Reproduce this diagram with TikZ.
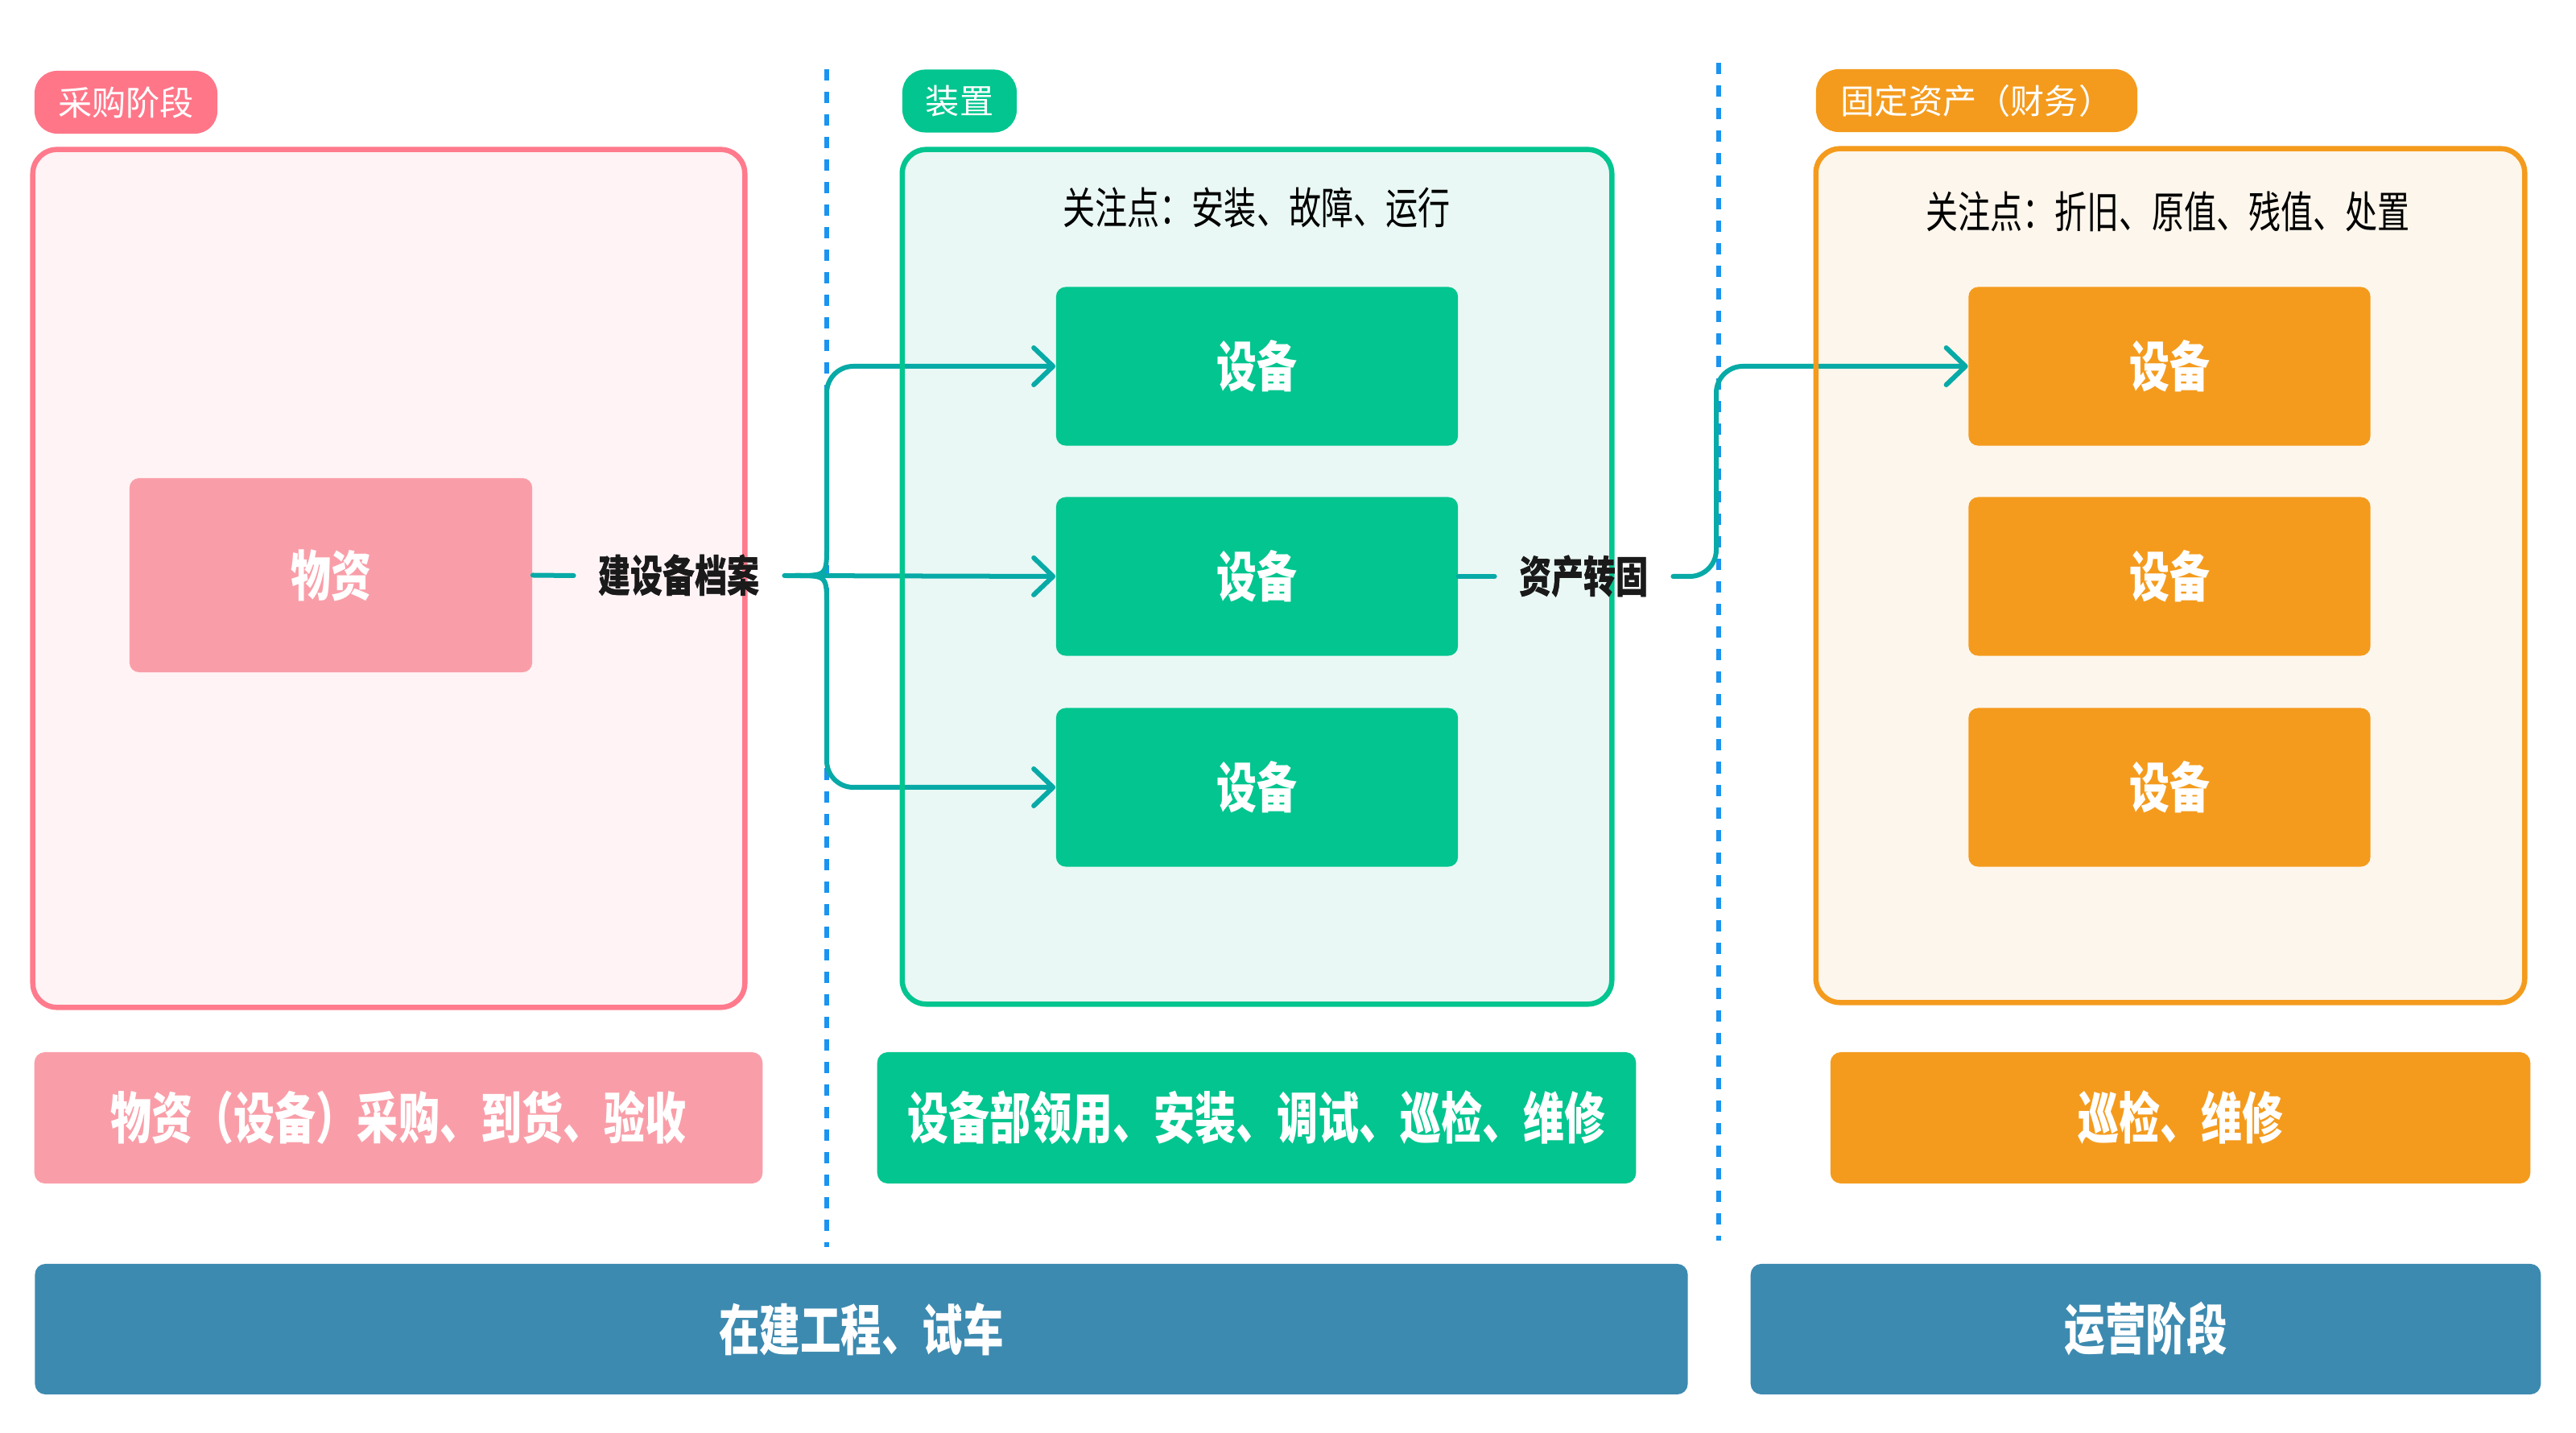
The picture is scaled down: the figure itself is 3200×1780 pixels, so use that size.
\documentclass[tikz,border=0pt]{standalone}
\usepackage{fontspec}
\setmainfont{Noto Sans CJK SC}
\newfontfamily\cnc[FakeStretch=0.74]{Noto Sans CJK SC}
\usetikzlibrary{arrows.meta,calc}
\definecolor{pinktag}{HTML}{FF7689}
\definecolor{pinkline}{HTML}{FF7A8C}
\definecolor{pinkfill}{HTML}{FFF3F5}
\definecolor{pinksolid}{HTML}{F99EA8}
\definecolor{greensolid}{HTML}{03C58F}
\definecolor{greenfill}{HTML}{E9F8F4}
\definecolor{orangesolid}{HTML}{F49B1D}
\definecolor{orangefill}{HTML}{FDF6EC}
\definecolor{barblue}{HTML}{3D8AB0}
\definecolor{dashblue}{HTML}{1A94F0}
\definecolor{connteal}{HTML}{07AAA6}
\definecolor{textdark}{HTML}{1A1A1A}
\tikzset{
  tagbox/.style={rounded corners=0.28cm, minimum height=0.78cm, inner sep=0pt, text=white, font=\fontsize{12}{14}\selectfont},
  panelfill/.style={rounded corners=0.3cm, inner sep=0pt},
  panelline/.style={draw, line width=0.065cm, rounded corners=0.3cm, inner sep=0pt},
  devbox/.style={rounded corners=0.12cm, minimum width=4.99cm, minimum height=1.97cm, inner sep=0pt, text=white, font=\cnc\bfseries\fontsize{19.2}{22}\selectfont},
  rowbox/.style={rounded corners=0.13cm, minimum height=1.63cm, inner sep=0pt, text=white, font=\cnc\bfseries\fontsize{19.6}{22}\selectfont},
  barbox/.style={fill=barblue, rounded corners=0.13cm, minimum height=1.62cm, inner sep=0pt, text=white, font=\cnc\bfseries\fontsize{19.4}{22}\selectfont},
  conn/.style={draw=connteal, line width=0.06cm, line cap=round, line join=round},
  arr/.style={-{Straight Barb[round,length=0.24cm,width=0.46cm]}},
  divider/.style={draw=dashblue, line width=0.065cm, dash pattern=on 0.14cm off 0.14cm},
  lbl/.style={font=\cnc\bfseries\fontsize{15.4}{18}\selectfont, text=textdark, inner xsep=0.3cm, inner ysep=0pt},
  ttl/.style={font=\cnc\fontsize{15.4}{18}\selectfont, text=black, inner sep=0pt}
}
\begin{document}
\begin{tikzpicture}[x=0.01cm,y=-0.01cm]
\useasboundingbox (0,0) rectangle (3200,1780);
\fill[white] (0,0) rectangle (3200,1780);

% dividers
\coordinate (d1t) at (1027,86);
\coordinate (d1b) at (1027,1549);
\coordinate (d2t) at (2135,78);
\coordinate (d2b) at (2135,1541);
\draw[divider] (d1t) -- (d1b);
\draw[divider] (d2t) -- (d2b);

% tags
\node[tagbox, fill=pinktag, minimum width=2.27cm] (tP) at (156.5,127) {采购阶段};
\node[tagbox, fill=greensolid, minimum width=1.42cm] (tG) at (1192,125.5) {装置};
\node[tagbox, fill=orangesolid, minimum width=3.99cm] (tO) at (2455.5,125) {固定资产（财务）};

% panel fills
\node[panelfill, fill=pinkfill, minimum width=8.84cm, minimum height=10.65cm] (pPf) at (483,718.5) {};
\node[panelfill, fill=greenfill, minimum width=8.81cm, minimum height=10.61cm] (pGf) at (1561.5,716.5) {};
\node[panelfill, fill=orangefill, minimum width=8.80cm, minimum height=10.60cm] (pOf) at (2696,715) {};

% titles
\node[ttl] (ttG) at (1561,258) {关注点：安装、故障、运行};
\node[ttl] (ttO) at (2693,263) {关注点：折旧、原值、残值、处置};

% inner boxes
\node[devbox, fill=pinksolid, minimum width=5.00cm, minimum height=2.41cm] (wz) at (411,714.5) {物资};
\node[devbox, fill=greensolid] (g1) at (1561.5,455) {设备};
\node[devbox, fill=greensolid] (g2) at (1561.5,716) {设备};
\node[devbox, fill=greensolid] (g3) at (1561.5,978) {设备};
\node[devbox, fill=orangesolid] (o1) at (2695,455) {设备};
\node[devbox, fill=orangesolid] (o2) at (2695,716) {设备};
\node[devbox, fill=orangesolid] (o3) at (2695,978) {设备};

% labels
\node[lbl] (l1) at (843.5,715) {建设备档案};
\node[lbl] (l2) at (1967.5,716) {资产转固};

% connectors
\draw[conn] (wz.east) -- (l1.west);
\draw[conn,arr] (l1.east) -- (g2.west);
\coordinate (bs) at (988,715);
\coordinate (bt) at (1027,678);
\coordinate (bb) at (1027,752);
\draw[conn,arr] (bs) .. controls (bt |- bs) .. (bt) [rounded corners=0.33cm] -- (bt |- g1.west) -- (g1.west);
\draw[conn,arr] (bs) .. controls (bb |- bs) .. (bb) [rounded corners=0.33cm] -- (bb |- g3.west) -- (g3.west);
\draw[conn] (g2.east) -- (l2.west);
\coordinate (vx) at (2132,716);
\draw[conn,arr,rounded corners=0.33cm] (l2.east) -- (vx) -- (vx |- o1.west) -- (o1.west);

% panel borders
\node[panelline, draw=pinkline, minimum width=8.84cm, minimum height=10.65cm] (pP) at (483,718.5) {};
\node[panelline, draw=greensolid, minimum width=8.81cm, minimum height=10.61cm] (pG) at (1561.5,716.5) {};
\node[panelline, draw=orangesolid, minimum width=8.80cm, minimum height=10.60cm] (pO) at (2696,715) {};

% redraw labels on top
\node[lbl] at (l1) {建设备档案};
\node[lbl] at (l2) {资产转固};

% bottom row
\node[rowbox, fill=pinksolid, minimum width=9.04cm] (rP) at (495,1388.5) {物资（设备）采购、到货、验收};
\node[rowbox, fill=greensolid, minimum width=9.42cm] (rG) at (1561,1388.5) {设备部领用、安装、调试、巡检、维修};
\node[rowbox, fill=orangesolid, minimum width=8.69cm] (rO) at (2708.5,1388.5) {巡检、维修};

% bars
\node[barbox, minimum width=20.52cm] (bL) at (1070,1651) {在建工程、试车};
\node[barbox, minimum width=9.81cm] (bR) at (2665.5,1651) {运营阶段};
\end{tikzpicture}
\end{document}
